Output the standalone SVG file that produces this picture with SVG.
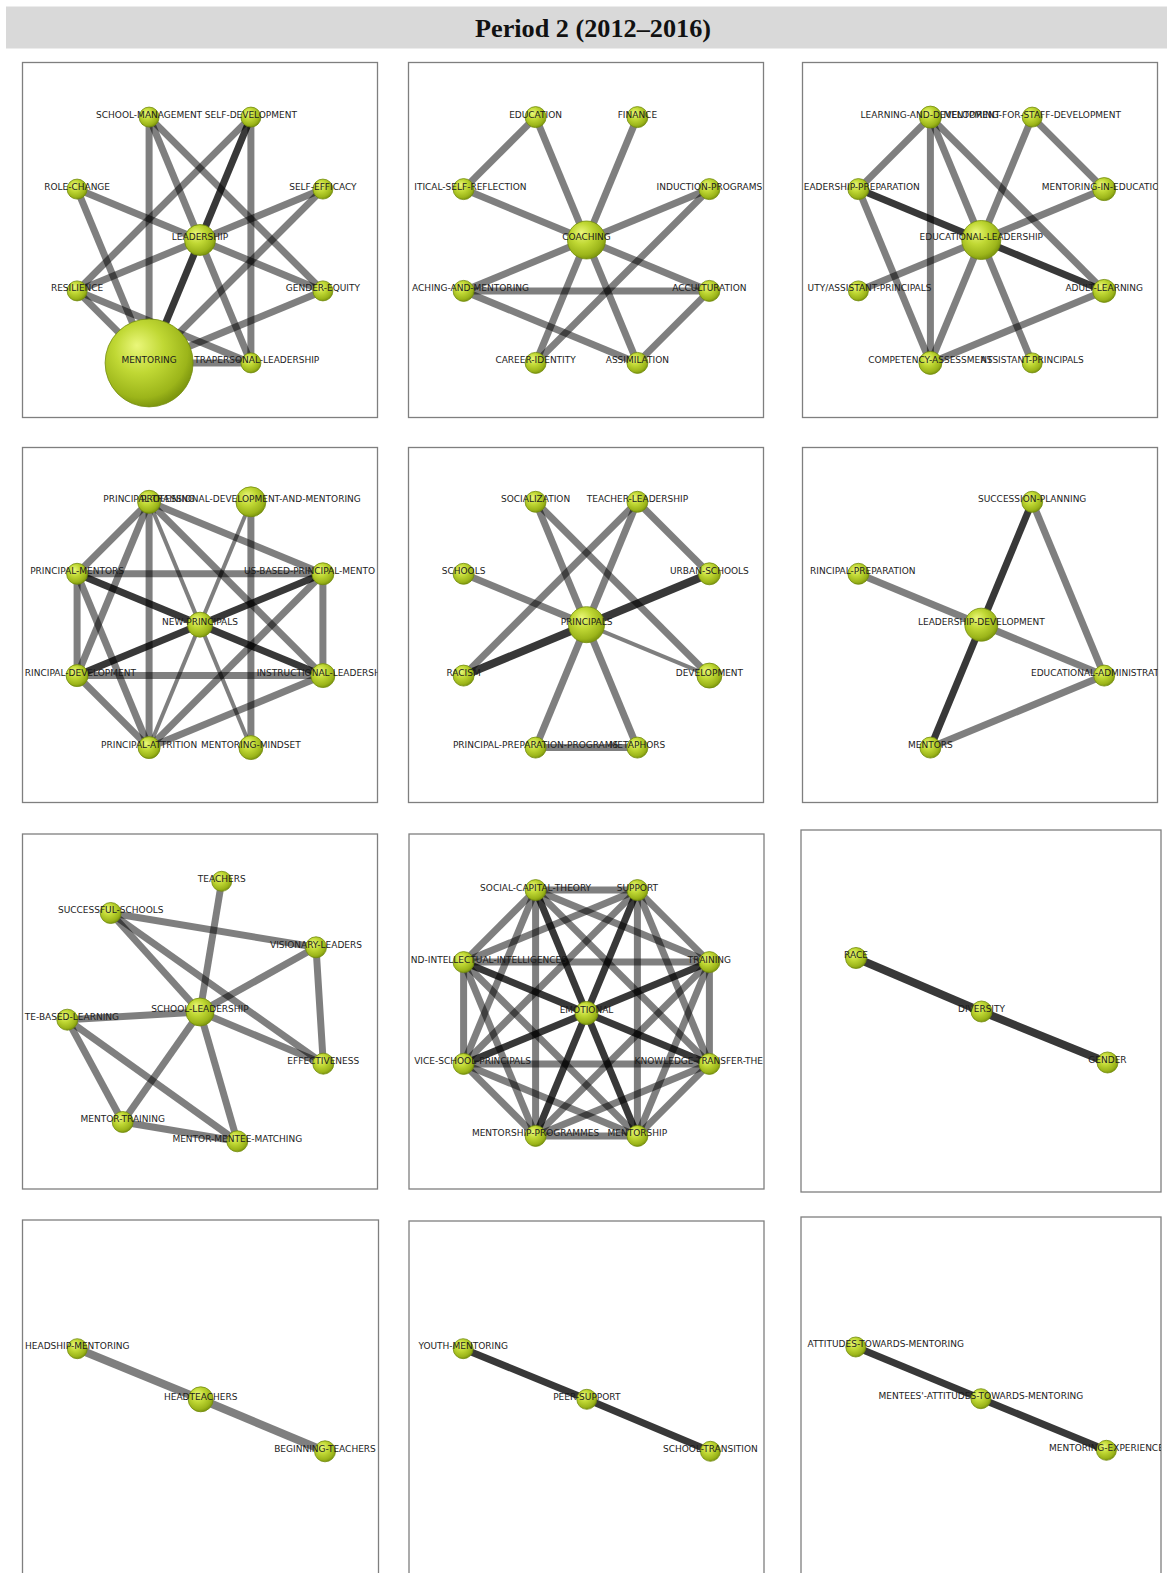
<svg xmlns="http://www.w3.org/2000/svg" width="1171" height="1573" viewBox="0 0 1171 1573">
<defs>
<radialGradient id="g" cx="0.42" cy="0.38" r="0.62" fx="0.36" fy="0.3">
<stop offset="0" stop-color="#eaf77a"/>
<stop offset="0.45" stop-color="#c0d834"/>
<stop offset="0.85" stop-color="#9cb51a"/>
<stop offset="1" stop-color="#7f980f"/>
</radialGradient>
<clipPath id="c1"><rect x="22.5" y="62.5" width="355" height="355"/></clipPath>
<clipPath id="c2"><rect x="408.5" y="62.5" width="355" height="355"/></clipPath>
<clipPath id="c3"><rect x="802.5" y="62.5" width="355" height="355"/></clipPath>
<clipPath id="c4"><rect x="22.5" y="447.5" width="355" height="355"/></clipPath>
<clipPath id="c5"><rect x="408.5" y="447.5" width="355" height="355"/></clipPath>
<clipPath id="c6"><rect x="802.5" y="447.5" width="355" height="355"/></clipPath>
<clipPath id="c7"><rect x="22.5" y="834" width="355" height="355"/></clipPath>
<clipPath id="c8"><rect x="409" y="834" width="355" height="355"/></clipPath>
<clipPath id="c9"><rect x="801" y="830" width="360" height="362"/></clipPath>
<clipPath id="c10"><rect x="22.5" y="1220" width="356" height="400"/></clipPath>
<clipPath id="c11"><rect x="409" y="1221" width="355" height="400"/></clipPath>
<clipPath id="c12"><rect x="801" y="1217" width="360" height="400"/></clipPath>
</defs>
<style>
.pn{fill:#fff;stroke:#7f7f7f;stroke-width:1.3}
.e line{stroke:#000;stroke-opacity:.5;stroke-width:7}
.e line.d{stroke-opacity:.78}
.e line.thin{stroke-width:4}
.e line.w8{stroke-width:8}
.n circle{fill:url(#g);stroke:#728c0c;stroke-width:.8}
.n text{font-family:"DejaVu Sans",Verdana,sans-serif;font-size:9px;fill:#1c1c1c;text-anchor:middle}
.n text.s{text-anchor:start}
.n text.en{text-anchor:end}
</style>
<rect x="0" y="0" width="1171" height="1573" fill="#fff"/>
<g id="header">
<rect x="6" y="6.5" width="1161" height="42" fill="#d9d9d9"/>
<text x="593" y="37" font-family="'Liberation Serif',serif" font-weight="bold" font-size="26" text-anchor="middle" textLength="236" lengthAdjust="spacingAndGlyphs" fill="#111">Period 2 (2012–2016)</text>
</g>

<!-- Panel 1 -->
<rect class="pn" x="22.5" y="62.5" width="355" height="355"/>
<g id="panel1" clip-path="url(#c1)">
<g id="p1-edges" class="e">
<line x1="149.1" y1="117.1" x2="149.1" y2="362.9"/>
<line x1="149.1" y1="117.1" x2="250.9" y2="362.9"/>
<line x1="149.1" y1="117.1" x2="322.9" y2="290.9"/>
<line x1="250.9" y1="117.1" x2="250.9" y2="362.9"/>
<line x1="250.9" y1="117.1" x2="77.1" y2="290.9"/>
<line x1="77.1" y1="189.1" x2="322.9" y2="290.9"/>
<line x1="77.1" y1="189.1" x2="149.1" y2="362.9"/>
<line x1="322.9" y1="189.1" x2="77.1" y2="290.9"/>
<line x1="322.9" y1="189.1" x2="149.1" y2="362.9"/>
<line x1="77.1" y1="290.9" x2="149.1" y2="362.9"/>
<line x1="77.1" y1="290.9" x2="250.9" y2="362.9"/>
<line x1="322.9" y1="290.9" x2="149.1" y2="362.9"/>
<line x1="149.1" y1="362.9" x2="250.9" y2="362.9"/>
<line class="d" x1="250.9" y1="117.1" x2="149.1" y2="362.9"/>
</g>
<g id="p1-school-management" class="n"><circle cx="149.1" cy="117.1" r="10"/><text x="149.1" y="117.5">SCHOOL-MANAGEMENT</text></g>
<g id="p1-self-development" class="n"><circle cx="250.9" cy="117.1" r="10"/><text x="250.9" y="117.5">SELF-DEVELOPMENT</text></g>
<g id="p1-role-change" class="n"><circle cx="77.1" cy="189.1" r="10"/><text x="77.1" y="189.5">ROLE-CHANGE</text></g>
<g id="p1-self-efficacy" class="n"><circle cx="322.9" cy="189.1" r="10"/><text x="322.9" y="189.5">SELF-EFFICACY</text></g>
<g id="p1-leadership" class="n"><circle cx="200" cy="240" r="15.5"/><text x="200" y="240.4">LEADERSHIP</text></g>
<g id="p1-resilience" class="n"><circle cx="77.1" cy="290.9" r="10"/><text x="77.1" y="291.3">RESILIENCE</text></g>
<g id="p1-gender-equity" class="n"><circle cx="322.9" cy="290.9" r="10"/><text x="322.9" y="291.3">GENDER-EQUITY</text></g>
<g id="p1-intrapersonal-leadership" class="n"><circle cx="250.9" cy="362.9" r="10"/><text class="en" x="319.3" y="363.3">TRAPERSONAL-LEADERSHIP</text></g>
<g id="p1-mentoring" class="n"><circle cx="149.1" cy="362.9" r="44"/><text x="149.1" y="363.3">MENTORING</text></g>
</g>

<!-- Panel 2 -->
<rect class="pn" x="408.5" y="62.5" width="355" height="355"/>
<g id="panel2" clip-path="url(#c2)">
<g id="p2-edges" class="e">
<line x1="535.6" y1="117.1" x2="463.6" y2="189.1"/>
<line x1="535.6" y1="117.1" x2="586.5" y2="240"/>
<line x1="637.4" y1="117.1" x2="586.5" y2="240"/>
<line x1="463.6" y1="189.1" x2="586.5" y2="240"/>
<line x1="709.4" y1="189.1" x2="586.5" y2="240"/>
<line x1="709.4" y1="189.1" x2="535.6" y2="362.9"/>
<line x1="463.6" y1="290.9" x2="586.5" y2="240"/>
<line x1="463.6" y1="290.9" x2="709.4" y2="290.9"/>
<line x1="463.6" y1="290.9" x2="637.4" y2="362.9"/>
<line x1="586.5" y1="240" x2="709.4" y2="290.9"/>
<line x1="586.5" y1="240" x2="535.6" y2="362.9"/>
<line x1="586.5" y1="240" x2="637.4" y2="362.9"/>
<line x1="709.4" y1="290.9" x2="637.4" y2="362.9"/>
</g>
<g id="p2-education" class="n"><circle cx="535.6" cy="117.1" r="10.5"/><text x="535.6" y="117.5">EDUCATION</text></g>
<g id="p2-finance" class="n"><circle cx="637.4" cy="117.1" r="10.5"/><text x="637.4" y="117.5">FINANCE</text></g>
<g id="p2-critical-self-reflection" class="n"><circle cx="463.6" cy="189.1" r="10.5"/><text class="en" x="526.5" y="189.5">ITICAL-SELF-REFLECTION</text></g>
<g id="p2-induction-programs" class="n"><circle cx="709.4" cy="189.1" r="10.5"/><text x="709.4" y="189.5">INDUCTION-PROGRAMS</text></g>
<g id="p2-coaching" class="n"><circle cx="586.5" cy="240" r="19"/><text x="586.5" y="240.4">COACHING</text></g>
<g id="p2-coaching-and-mentoring" class="n"><circle cx="463.6" cy="290.9" r="10.5"/><text class="en" x="529" y="291.3">ACHING-AND-MENTORING</text></g>
<g id="p2-acculturation" class="n"><circle cx="709.4" cy="290.9" r="10.5"/><text x="709.4" y="291.3">ACCULTURATION</text></g>
<g id="p2-career-identity" class="n"><circle cx="535.6" cy="362.9" r="10.5"/><text x="535.6" y="363.3">CAREER-IDENTITY</text></g>
<g id="p2-assimilation" class="n"><circle cx="637.4" cy="362.9" r="10.5"/><text x="637.4" y="363.3">ASSIMILATION</text></g>
</g>

<!-- Panel 3 -->
<rect class="pn" x="802.5" y="62.5" width="355" height="355"/>
<g id="panel3" clip-path="url(#c3)">
<g id="p3-edges" class="e">
<line x1="930.4" y1="117.1" x2="858.4" y2="189.1"/>
<line x1="930.4" y1="117.1" x2="930.4" y2="362.9"/>
<line x1="930.4" y1="117.1" x2="1032.2" y2="362.9"/>
<line x1="930.4" y1="117.1" x2="1104.2" y2="290.9"/>
<line x1="1032.2" y1="117.1" x2="930.4" y2="362.9"/>
<line x1="1032.2" y1="117.1" x2="1104.2" y2="189.1"/>
<line x1="858.4" y1="189.1" x2="930.4" y2="362.9"/>
<line x1="1104.2" y1="189.1" x2="858.4" y2="290.9"/>
<line x1="1104.2" y1="290.9" x2="930.4" y2="362.9"/>
<line class="d" x1="858.4" y1="189.1" x2="1104.2" y2="290.9"/>
</g>
<g id="p3-learning-and-development" class="n"><circle cx="930.4" cy="117.1" r="11"/><text x="930.4" y="117.5">LEARNING-AND-DEVELOPMENT</text></g>
<g id="p3-mentoring-for-staff-development" class="n"><circle cx="1032.2" cy="117.1" r="10"/><text x="1032.2" y="117.5">MENTORING-FOR-STAFF-DEVELOPMENT</text></g>
<g id="p3-leadership-preparation" class="n"><circle cx="858.4" cy="189.1" r="10.5"/><text class="en" x="919.8" y="189.5">EADERSHIP-PREPARATION</text></g>
<g id="p3-mentoring-in-education" class="n"><circle cx="1104.2" cy="189.1" r="11.5"/><text class="s" x="1041.8" y="189.5">MENTORING-IN-EDUCATIO</text></g>
<g id="p3-educational-leadership" class="n"><circle cx="981.3" cy="240" r="19.5"/><text x="981.3" y="240.4">EDUCATIONAL-LEADERSHIP</text></g>
<g id="p3-deputy-assistant-principals" class="n"><circle cx="858.4" cy="290.9" r="10"/><text class="en" x="931.5" y="291.3">UTY/ASSISTANT-PRINCIPALS</text></g>
<g id="p3-adult-learning" class="n"><circle cx="1104.2" cy="290.9" r="11.5"/><text x="1104.2" y="291.3">ADULT-LEARNING</text></g>
<g id="p3-competency-assessment" class="n"><circle cx="930.4" cy="362.9" r="11.5"/><text x="930.4" y="363.3">COMPETENCY-ASSESSMENT</text></g>
<g id="p3-assistant-principals" class="n"><circle cx="1032.2" cy="362.9" r="10"/><text x="1032.2" y="363.3">ASSISTANT-PRINCIPALS</text></g>
</g>

<!-- Panel 4 -->
<rect class="pn" x="22.5" y="447.5" width="355" height="355"/>
<g id="panel4" clip-path="url(#c4)">
<g id="p4-edges" class="e">
<line x1="149.1" y1="501.8" x2="77.1" y2="573.8"/>
<line x1="149.1" y1="501.8" x2="77.1" y2="675.6"/>
<line x1="149.1" y1="501.8" x2="149.1" y2="747.6"/>
<line x1="149.1" y1="501.8" x2="322.9" y2="573.8"/>
<line x1="149.1" y1="501.8" x2="322.9" y2="675.6"/>
<line x1="250.9" y1="501.8" x2="250.9" y2="747.6"/>
<line x1="77.1" y1="573.8" x2="322.9" y2="573.8"/>
<line x1="77.1" y1="573.8" x2="77.1" y2="675.6"/>
<line x1="77.1" y1="573.8" x2="149.1" y2="747.6"/>
<line x1="322.9" y1="573.8" x2="322.9" y2="675.6"/>
<line x1="322.9" y1="573.8" x2="149.1" y2="747.6"/>
<line x1="77.1" y1="675.6" x2="322.9" y2="675.6"/>
<line x1="77.1" y1="675.6" x2="149.1" y2="747.6"/>
<line x1="322.9" y1="675.6" x2="149.1" y2="747.6"/>
<line class="thin" x1="149.1" y1="501.8" x2="250.9" y2="747.6"/>
<line class="thin" x1="250.9" y1="501.8" x2="149.1" y2="747.6"/>
<line class="d" x1="77.1" y1="573.8" x2="322.9" y2="675.6"/>
<line class="d" x1="322.9" y1="573.8" x2="77.1" y2="675.6"/>
</g>
<g id="p4-principal-training" class="n"><circle cx="149.1" cy="501.8" r="11.5"/><text x="149.1" y="502.2">PRINCIPAL-TRAINING</text></g>
<g id="p4-professional-development-and-mentoring" class="n"><circle cx="250.9" cy="501.8" r="15"/><text x="250.9" y="502.2">PROFESSIONAL-DEVELOPMENT-AND-MENTORING</text></g>
<g id="p4-principal-mentors" class="n"><circle cx="77.1" cy="573.8" r="10.5"/><text x="77.1" y="574.2">PRINCIPAL-MENTORS</text></g>
<g id="p4-us-based-principal-mentors" class="n"><circle cx="322.9" cy="573.8" r="11"/><text class="s" x="244" y="574.2">US-BASED-PRINCIPAL-MENTO</text></g>
<g id="p4-new-principals" class="n"><circle cx="200" cy="624.7" r="12.5"/><text x="200" y="625.1">NEW-PRINCIPALS</text></g>
<g id="p4-principal-development" class="n"><circle cx="77.1" cy="675.6" r="11"/><text class="en" x="135.9" y="676">RINCIPAL-DEVELOPMENT</text></g>
<g id="p4-instructional-leadership" class="n"><circle cx="322.9" cy="675.6" r="12"/><text class="s" x="256.7" y="676">INSTRUCTIONAL-LEADERSH</text></g>
<g id="p4-principal-attrition" class="n"><circle cx="149.1" cy="747.6" r="11"/><text x="149.1" y="748">PRINCIPAL-ATTRITION</text></g>
<g id="p4-mentoring-mindset" class="n"><circle cx="250.9" cy="747.6" r="12"/><text x="250.9" y="748">MENTORING-MINDSET</text></g>
</g>

<!-- Panel 5 -->
<rect class="pn" x="408.5" y="447.5" width="355" height="355"/>
<g id="panel5" clip-path="url(#c5)">
<g id="p5-edges" class="e">
<line x1="535.6" y1="501.8" x2="586.5" y2="624.7"/>
<line x1="535.6" y1="501.8" x2="709.4" y2="675.6"/>
<line x1="637.4" y1="501.8" x2="463.6" y2="675.6"/>
<line x1="637.4" y1="501.8" x2="586.5" y2="624.7"/>
<line x1="637.4" y1="501.8" x2="709.4" y2="573.8"/>
<line x1="463.6" y1="573.8" x2="586.5" y2="624.7"/>
<line x1="586.5" y1="624.7" x2="535.6" y2="747.6"/>
<line x1="586.5" y1="624.7" x2="637.4" y2="747.6"/>
<line x1="535.6" y1="747.6" x2="637.4" y2="747.6"/>
<line class="thin" x1="586.5" y1="624.7" x2="709.4" y2="675.6"/>
<line class="d w8" x1="709.4" y1="573.8" x2="463.6" y2="675.6"/>
</g>
<g id="p5-socialization" class="n"><circle cx="535.6" cy="501.8" r="10.5"/><text x="535.6" y="502.2">SOCIALIZATION</text></g>
<g id="p5-teacher-leadership" class="n"><circle cx="637.4" cy="501.8" r="10.5"/><text x="637.4" y="502.2">TEACHER-LEADERSHIP</text></g>
<g id="p5-schools" class="n"><circle cx="463.6" cy="573.8" r="10.5"/><text x="463.6" y="574.2">SCHOOLS</text></g>
<g id="p5-urban-schools" class="n"><circle cx="709.4" cy="573.8" r="11"/><text x="709.4" y="574.2">URBAN-SCHOOLS</text></g>
<g id="p5-principals" class="n"><circle cx="586.5" cy="624.7" r="18"/><text x="586.5" y="625.1">PRINCIPALS</text></g>
<g id="p5-racism" class="n"><circle cx="463.6" cy="675.6" r="10.5"/><text x="463.6" y="676">RACISM</text></g>
<g id="p5-development" class="n"><circle cx="709.4" cy="675.6" r="12.5"/><text x="709.4" y="676">DEVELOPMENT</text></g>
<g id="p5-principal-preparation-programs" class="n"><circle cx="535.6" cy="747.6" r="10.5"/><text x="535.6" y="748">PRINCIPAL-PREPARATION-PROGRAMS</text></g>
<g id="p5-metaphors" class="n"><circle cx="637.4" cy="747.6" r="10.5"/><text x="637.4" y="748">METAPHORS</text></g>
</g>

<!-- Panel 6 -->
<rect class="pn" x="802.5" y="447.5" width="355" height="355"/>
<g id="panel6" clip-path="url(#c6)">
<g id="p6-edges" class="e">
<line x1="1032.2" y1="501.8" x2="1104.2" y2="675.6"/>
<line x1="858.4" y1="573.8" x2="1104.2" y2="675.6"/>
<line x1="930.4" y1="747.6" x2="1104.2" y2="675.6"/>
<line class="d" x1="1032.2" y1="501.8" x2="930.4" y2="747.6"/>
</g>
<g id="p6-succession-planning" class="n"><circle cx="1032.2" cy="501.8" r="10.5"/><text x="1032.2" y="502.2">SUCCESSION-PLANNING</text></g>
<g id="p6-principal-preparation" class="n"><circle cx="858.4" cy="573.8" r="10.5"/><text class="en" x="915.5" y="574.2">RINCIPAL-PREPARATION</text></g>
<g id="p6-leadership-development" class="n"><circle cx="981.3" cy="624.7" r="16.5"/><text x="981.3" y="625.1">LEADERSHIP-DEVELOPMENT</text></g>
<g id="p6-educational-administration" class="n"><circle cx="1104.2" cy="675.6" r="10.5"/><text class="s" x="1031" y="676">EDUCATIONAL-ADMINISTRAT</text></g>
<g id="p6-mentors" class="n"><circle cx="930.4" cy="747.6" r="10.5"/><text x="930.4" y="748">MENTORS</text></g>
</g>

<!-- Panel 7 -->
<rect class="pn" x="22.5" y="834" width="355" height="355"/>
<g id="panel7" clip-path="url(#c7)">
<g id="p7-edges" class="e">
<line x1="221.7" y1="881.3" x2="200" y2="1012"/>
<line x1="110.7" y1="913" x2="316" y2="947.3"/>
<line x1="110.7" y1="913" x2="200" y2="1012"/>
<line x1="110.7" y1="913" x2="323.3" y2="1063.7"/>
<line x1="316" y1="947.3" x2="200" y2="1012"/>
<line x1="316" y1="947.3" x2="323.3" y2="1063.7"/>
<line x1="67.3" y1="1019.7" x2="200" y2="1012"/>
<line x1="67.3" y1="1019.7" x2="122.7" y2="1122"/>
<line x1="67.3" y1="1019.7" x2="237.3" y2="1141.3"/>
<line x1="200" y1="1012" x2="323.3" y2="1063.7"/>
<line x1="200" y1="1012" x2="122.7" y2="1122"/>
<line x1="200" y1="1012" x2="237.3" y2="1141.3"/>
<line x1="122.7" y1="1122" x2="237.3" y2="1141.3"/>
</g>
<g id="p7-teachers" class="n"><circle cx="221.7" cy="881.3" r="10"/><text x="221.7" y="881.7">TEACHERS</text></g>
<g id="p7-successful-schools" class="n"><circle cx="110.7" cy="913" r="10.5"/><text x="110.7" y="913.4">SUCCESSFUL-SCHOOLS</text></g>
<g id="p7-visionary-leaders" class="n"><circle cx="316" cy="947.3" r="10.5"/><text x="316" y="947.7">VISIONARY-LEADERS</text></g>
<g id="p7-site-based-learning" class="n"><circle cx="67.3" cy="1019.7" r="10.5"/><text class="en" x="119" y="1020.1">TE-BASED-LEARNING</text></g>
<g id="p7-school-leadership" class="n"><circle cx="200" cy="1012" r="14"/><text x="200" y="1012.4">SCHOOL-LEADERSHIP</text></g>
<g id="p7-effectiveness" class="n"><circle cx="323.3" cy="1063.7" r="10.5"/><text x="323.3" y="1064.1">EFFECTIVENESS</text></g>
<g id="p7-mentor-training" class="n"><circle cx="122.7" cy="1122" r="10.5"/><text x="122.7" y="1122.4">MENTOR-TRAINING</text></g>
<g id="p7-mentor-mentee-matching" class="n"><circle cx="237.3" cy="1141.3" r="10.5"/><text x="237.3" y="1141.7">MENTOR-MENTEE-MATCHING</text></g>
</g>

<!-- Panel 8 -->
<rect class="pn" x="409" y="834" width="355" height="355"/>
<g id="panel8" clip-path="url(#c8)">
<g id="p8-edges" class="e">
<line x1="535.6" y1="890.1" x2="637.4" y2="890.1"/>
<line x1="535.6" y1="890.1" x2="709.4" y2="962.1"/>
<line x1="535.6" y1="890.1" x2="709.4" y2="1063.9"/>
<line x1="535.6" y1="890.1" x2="535.6" y2="1135.9"/>
<line x1="535.6" y1="890.1" x2="463.6" y2="1063.9"/>
<line x1="535.6" y1="890.1" x2="463.6" y2="962.1"/>
<line x1="637.4" y1="890.1" x2="709.4" y2="962.1"/>
<line x1="637.4" y1="890.1" x2="709.4" y2="1063.9"/>
<line x1="637.4" y1="890.1" x2="637.4" y2="1135.9"/>
<line x1="637.4" y1="890.1" x2="463.6" y2="1063.9"/>
<line x1="637.4" y1="890.1" x2="463.6" y2="962.1"/>
<line x1="709.4" y1="962.1" x2="709.4" y2="1063.9"/>
<line x1="709.4" y1="962.1" x2="637.4" y2="1135.9"/>
<line x1="709.4" y1="962.1" x2="535.6" y2="1135.9"/>
<line x1="709.4" y1="962.1" x2="463.6" y2="962.1"/>
<line x1="709.4" y1="1063.9" x2="637.4" y2="1135.9"/>
<line x1="709.4" y1="1063.9" x2="535.6" y2="1135.9"/>
<line x1="709.4" y1="1063.9" x2="463.6" y2="1063.9"/>
<line x1="637.4" y1="1135.9" x2="535.6" y2="1135.9"/>
<line x1="637.4" y1="1135.9" x2="463.6" y2="1063.9"/>
<line x1="637.4" y1="1135.9" x2="463.6" y2="962.1"/>
<line x1="535.6" y1="1135.9" x2="463.6" y2="1063.9"/>
<line x1="535.6" y1="1135.9" x2="463.6" y2="962.1"/>
<line x1="463.6" y1="1063.9" x2="463.6" y2="962.1"/>
<line class="d" x1="586.5" y1="1013" x2="535.6" y2="890.1"/>
<line class="d" x1="586.5" y1="1013" x2="637.4" y2="890.1"/>
<line class="d" x1="586.5" y1="1013" x2="709.4" y2="962.1"/>
<line class="d" x1="586.5" y1="1013" x2="709.4" y2="1063.9"/>
<line class="d" x1="586.5" y1="1013" x2="637.4" y2="1135.9"/>
<line class="d" x1="586.5" y1="1013" x2="535.6" y2="1135.9"/>
<line class="d" x1="586.5" y1="1013" x2="463.6" y2="1063.9"/>
<line class="d" x1="586.5" y1="1013" x2="463.6" y2="962.1"/>
</g>
<g id="p8-social-capital-theory" class="n"><circle cx="535.6" cy="890.1" r="10.5"/><text x="535.6" y="890.5">SOCIAL-CAPITAL-THEORY</text></g>
<g id="p8-support" class="n"><circle cx="637.4" cy="890.1" r="10.5"/><text x="637.4" y="890.5">SUPPORT</text></g>
<g id="p8-intellectual-intelligences" class="n"><circle cx="463.6" cy="962.1" r="10.5"/><text class="en" x="567" y="962.5">ND-INTELLECTUAL-INTELLIGENCES</text></g>
<g id="p8-training" class="n"><circle cx="709.4" cy="962.1" r="10.5"/><text x="709.4" y="962.5">TRAINING</text></g>
<g id="p8-emotional" class="n"><circle cx="586.5" cy="1013" r="11.5"/><text x="586.5" y="1013.4">EMOTIONAL</text></g>
<g id="p8-service-school-principals" class="n"><circle cx="463.6" cy="1063.9" r="10.5"/><text class="en" x="531" y="1064.3">VICE-SCHOOL-PRINCIPALS</text></g>
<g id="p8-knowledge-transfer-theory" class="n"><circle cx="709.4" cy="1063.9" r="10.5"/><text class="s" x="634.6" y="1064.3">KNOWLEDGE-TRANSFER-THE</text></g>
<g id="p8-mentorship-programmes" class="n"><circle cx="535.6" cy="1135.9" r="10.5"/><text x="535.6" y="1136.3">MENTORSHIP-PROGRAMMES</text></g>
<g id="p8-mentorship" class="n"><circle cx="637.4" cy="1135.9" r="10.5"/><text x="637.4" y="1136.3">MENTORSHIP</text></g>
</g>

<!-- Panel 9 -->
<rect class="pn" x="801" y="830" width="360" height="362"/>
<g id="panel9" clip-path="url(#c9)">
<g id="p9-edges" class="e">
<line class="d w8" x1="856" y1="958" x2="981.5" y2="1011.5"/>
<line class="d w8" x1="981.5" y1="1011.5" x2="1107.5" y2="1062.5"/>
</g>
<g id="p9-race" class="n"><circle cx="856" cy="958" r="10.5"/><text x="856" y="958.4">RACE</text></g>
<g id="p9-diversity" class="n"><circle cx="981.5" cy="1011.5" r="10.5"/><text x="981.5" y="1011.9">DIVERSITY</text></g>
<g id="p9-gender" class="n"><circle cx="1107.5" cy="1062.5" r="10.5"/><text x="1107.5" y="1062.9">GENDER</text></g>
</g>

<!-- Panel 10 -->
<rect class="pn" x="22.5" y="1220" width="356" height="400"/>
<g id="panel10" clip-path="url(#c10)">
<g id="p10-edges" class="e">
<line class="w8" x1="77.3" y1="1348.7" x2="200.7" y2="1399.3"/>
<line class="w8" x1="200.7" y1="1399.3" x2="325" y2="1451.3"/>
</g>
<g id="p10-headship-mentoring" class="n"><circle cx="77.3" cy="1348.7" r="10"/><text x="77.3" y="1349.1">HEADSHIP-MENTORING</text></g>
<g id="p10-headteachers" class="n"><circle cx="200.7" cy="1399.3" r="12.5"/><text x="200.7" y="1399.7">HEADTEACHERS</text></g>
<g id="p10-beginning-teachers" class="n"><circle cx="325" cy="1451.3" r="10.5"/><text x="325" y="1451.7">BEGINNING-TEACHERS</text></g>
</g>

<!-- Panel 11 -->
<rect class="pn" x="409" y="1221" width="355" height="400"/>
<g id="panel11" clip-path="url(#c11)">
<g id="p11-edges" class="e">
<line class="d" x1="463.2" y1="1348.7" x2="586.8" y2="1399.3"/>
<line class="d" x1="586.8" y1="1399.3" x2="710.4" y2="1451.3"/>
</g>
<g id="p11-youth-mentoring" class="n"><circle cx="463.2" cy="1348.7" r="10"/><text x="463.2" y="1349.1">YOUTH-MENTORING</text></g>
<g id="p11-peer-support" class="n"><circle cx="586.8" cy="1399.3" r="10"/><text x="586.8" y="1399.7">PEER-SUPPORT</text></g>
<g id="p11-school-transition" class="n"><circle cx="710.4" cy="1451.3" r="10"/><text x="710.4" y="1451.7">SCHOOL-TRANSITION</text></g>
</g>

<!-- Panel 12 -->
<rect class="pn" x="801" y="1217" width="360" height="400"/>
<g id="panel12" clip-path="url(#c12)">
<g id="p12-edges" class="e">
<line class="d" x1="855.8" y1="1347" x2="980.9" y2="1398.7"/>
<line class="d" x1="980.9" y1="1398.7" x2="1106.4" y2="1450.3"/>
</g>
<g id="p12-attitudes-towards-mentoring" class="n"><circle cx="855.8" cy="1347" r="10"/><text class="en" x="964" y="1347.4">ATTITUDES-TOWARDS-MENTORING</text></g>
<g id="p12-mentees-attitudes-towards-mentoring" class="n"><circle cx="980.9" cy="1398.7" r="10"/><text x="980.9" y="1399.1">MENTEES'-ATTITUDES-TOWARDS-MENTORING</text></g>
<g id="p12-mentoring-experience" class="n"><circle cx="1106.4" cy="1450.3" r="10"/><text x="1106.4" y="1450.7">MENTORING-EXPERIENCE</text></g>
</g>
</svg>
